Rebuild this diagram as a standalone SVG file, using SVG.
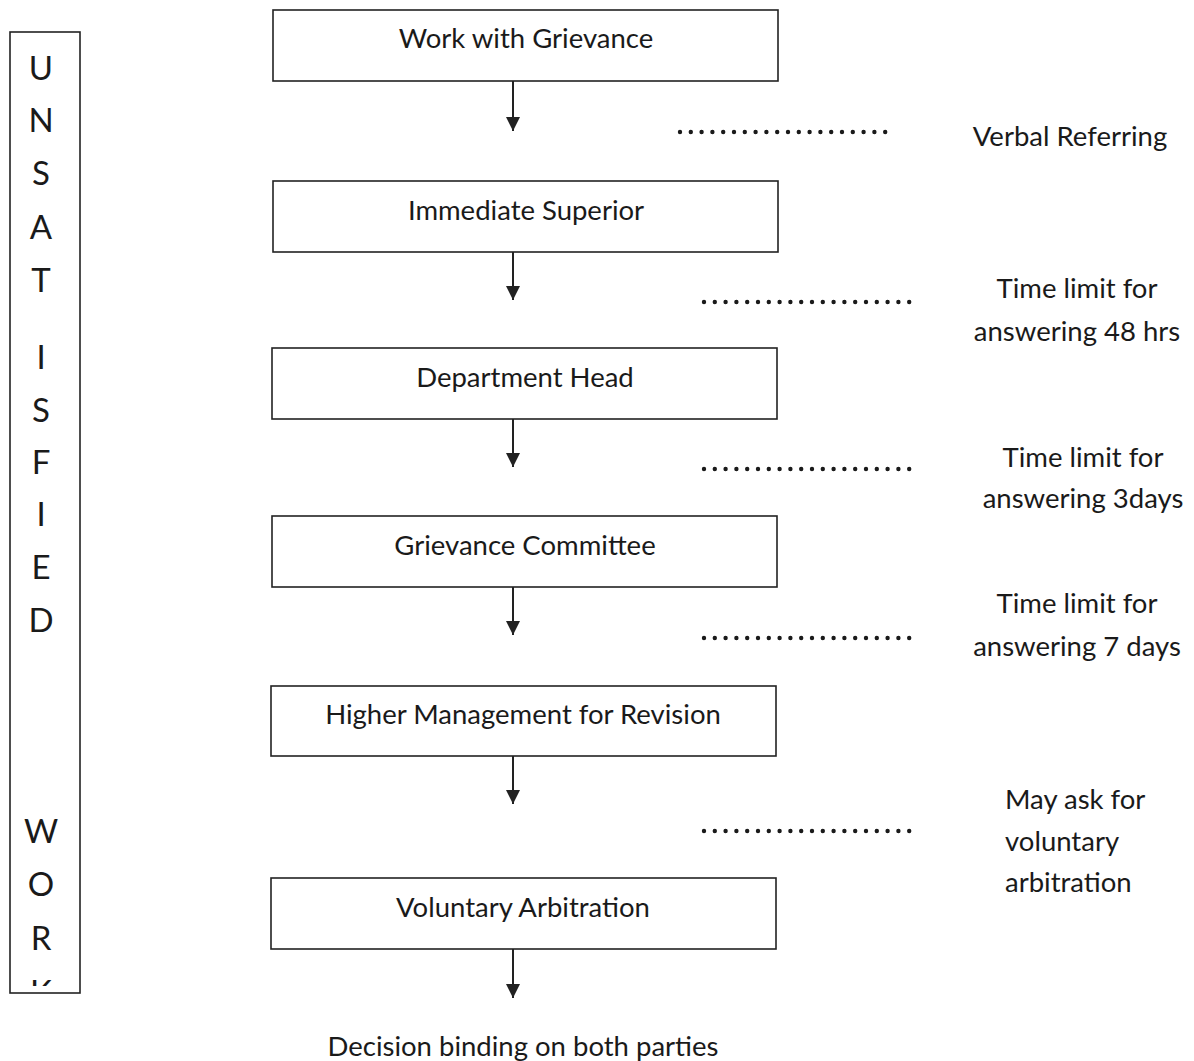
<svg xmlns="http://www.w3.org/2000/svg" width="1194" height="1061" viewBox="0 0 1194 1061">
<style>
.box{fill:#fff;stroke:#222;stroke-width:1.6}
.t{font-family:Lato,"Open Sans",sans-serif;font-size:27.5px;fill:#1a1a1a}
.c{text-anchor:middle}
.v{font-family:Lato,"Open Sans",sans-serif;font-size:33px;fill:#1a1a1a;text-anchor:middle}
.arr{stroke:#222;stroke-width:2;fill:none;marker-end:url(#ah)}
.dot{stroke:#1a1a1a;stroke-width:4.4;stroke-linecap:round;stroke-dasharray:0 10.8;fill:none}
</style>
<defs>
<marker id="ah" markerWidth="14" markerHeight="14" refX="14" refY="7" orient="auto" markerUnits="userSpaceOnUse" viewBox="0 0 14 14">
<path d="M0 0 L14 7 L0 14 Z" fill="#222"/>
</marker>
<clipPath id="clipL"><rect x="10" y="32" width="70" height="954"/></clipPath>
</defs>
<rect width="1194" height="1061" fill="#fff"/>

<g id="side">
<rect class="box" x="10" y="32" width="70" height="961"/>
<g clip-path="url(#clipL)">
<text class="v" x="41" y="80">U</text>
<text class="v" x="41" y="132">N</text>
<text class="v" x="41" y="185">S</text>
<text class="v" x="41" y="239">A</text>
<text class="v" x="41" y="292">T</text>
<text class="v" x="41" y="369">I</text>
<text class="v" x="41" y="422">S</text>
<text class="v" x="41" y="474">F</text>
<text class="v" x="41" y="526">I</text>
<text class="v" x="41" y="579">E</text>
<text class="v" x="41" y="632">D</text>
<text class="v" x="41" y="843">W</text>
<text class="v" x="41" y="896">O</text>
<text class="v" x="41" y="950">R</text>
<text class="v" x="41" y="1004">K</text>
</g>
</g>

<g id="n1"><rect class="box" x="273" y="10" width="505" height="71"/><text class="t c" x="526" y="48">Work with Grievance</text></g>
<g id="n2"><rect class="box" x="273" y="181" width="505" height="71"/><text class="t c" x="526" y="220">Immediate Superior</text></g>
<g id="n3"><rect class="box" x="272" y="348" width="505" height="71"/><text class="t c" x="525" y="387">Department Head</text></g>
<g id="n4"><rect class="box" x="272" y="516" width="505" height="71"/><text class="t c" x="525" y="555">Grievance Committee</text></g>
<g id="n5"><rect class="box" x="271" y="686" width="505" height="70"/><text class="t c" x="523" y="724">Higher Management for Revision</text></g>
<g id="n6"><rect class="box" x="271" y="878" width="505" height="71"/><text class="t c" x="523" y="917">Voluntary Arbitration</text></g>
<g id="n7"><text class="t c" x="523" y="1056">Decision binding on both parties</text></g>

<g id="connectors">
<line class="arr" x1="513" y1="81" x2="513" y2="131"/>
<line class="arr" x1="513" y1="252" x2="513" y2="300"/>
<line class="arr" x1="513" y1="419" x2="513" y2="467"/>
<line class="arr" x1="513" y1="587" x2="513" y2="635"/>
<line class="arr" x1="513" y1="756" x2="513" y2="804"/>
<line class="arr" x1="513" y1="949" x2="513" y2="998"/>
</g>

<g id="notes">
<line class="dot" x1="680" y1="132" x2="886" y2="132"/>
<line class="dot" x1="704" y1="302" x2="910" y2="302"/>
<line class="dot" x1="704" y1="469" x2="910" y2="469"/>
<line class="dot" x1="704" y1="638" x2="910" y2="638"/>
<line class="dot" x1="704" y1="831" x2="910" y2="831"/>
<text class="t c" x="1070" y="146">Verbal Referring</text>
<text class="t c" x="1077" y="298">Time limit for</text>
<text class="t c" x="1077" y="341">answering 48 hrs</text>
<text class="t c" x="1083" y="467">Time limit for</text>
<text class="t c" x="1083" y="508">answering 3days</text>
<text class="t c" x="1077" y="613">Time limit for</text>
<text class="t c" x="1077" y="656">answering 7 days</text>
<text class="t" x="1005" y="809">May ask for</text>
<text class="t" x="1005" y="851">voluntary</text>
<text class="t" x="1005" y="892">arbitration</text>
</g>
</svg>
